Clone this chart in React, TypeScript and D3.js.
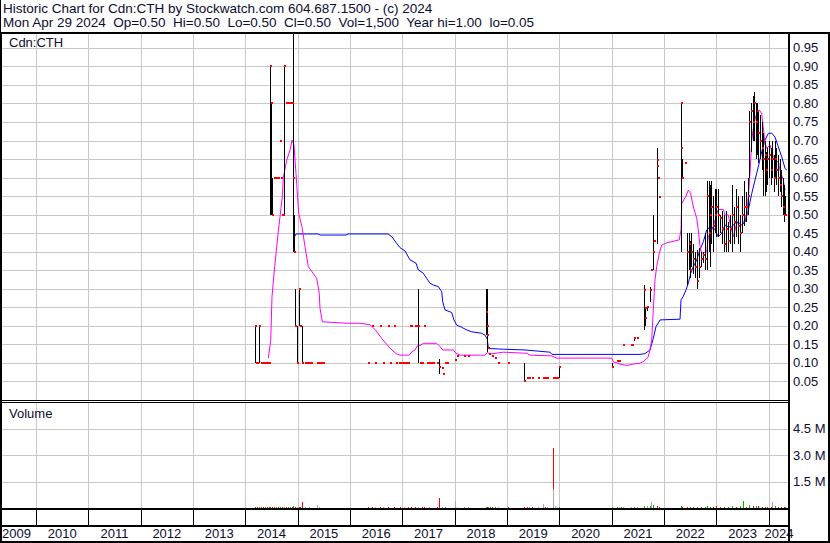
import React from 'react';
import * as d3 from 'd3';

const headerLine1 = 'Historic Chart for Cdn:CTH by Stockwatch.com 604.687.1500 - (c) 2024';
const headerLine2 = 'Mon Apr 29 2024  Op=0.50  Hi=0.50  Lo=0.50  Cl=0.50  Vol=1,500  Year hi=1.00  lo=0.05';
const symbolLabel = 'Cdn:CTH';
const volumeLabel = 'Volume';

const priceTicks = [0.05, 0.1, 0.15, 0.2, 0.25, 0.3, 0.35, 0.4, 0.45, 0.5, 0.55, 0.6, 0.65, 0.7, 0.75, 0.8, 0.85, 0.9, 0.95];
const volumeTicks = [1.5e6, 3.0e6, 4.5e6];
const volumeTickLabels = ['1.5 M', '3.0 M', '4.5 M'];
const years = [2009, 2010, 2011, 2012, 2013, 2014, 2015, 2016, 2017, 2018, 2019, 2020, 2021, 2022, 2023, 2024];

// [decimal year, high, low, close]
const priceBars: [number, number, number, number][] = [
  [2014.178, 0.20, 0.10, 0.20], [2014.194, 0.10, 0.10, 0.10], [2014.222, 0.10, 0.10, 0.10],
  [2014.266, 0.20, 0.10, 0.20], [2014.299, 0.10, 0.10, 0.10], [2014.337, 0.10, 0.10, 0.10],
  [2014.375, 0.10, 0.10, 0.10], [2014.413, 0.10, 0.10, 0.10], [2014.451, 0.10, 0.10, 0.10],
  [2014.480, 0.90, 0.50, 0.90], [2014.499, 0.80, 0.50, 0.80], [2014.518, 0.60, 0.50, 0.50],
  [2014.547, 0.60, 0.60, 0.60], [2014.585, 0.60, 0.60, 0.60], [2014.623, 0.60, 0.60, 0.60],
  [2014.662, 0.70, 0.70, 0.70], [2014.681, 0.60, 0.60, 0.60], [2014.700, 0.50, 0.50, 0.50],
  [2014.728, 0.50, 0.50, 0.50], [2014.744, 0.90, 0.50, 0.90], [2014.776, 0.80, 0.80, 0.80],
  [2014.814, 0.80, 0.80, 0.80], [2014.853, 0.80, 0.80, 0.80], [2014.891, 0.80, 0.80, 0.80],
  [2014.916, 1.00, 0.40, 0.60], [2014.933, 0.50, 0.40, 0.40], [2014.942, 0.30, 0.20, 0.20],
  [2014.981, 0.20, 0.10, 0.10], [2015.019, 0.30, 0.20, 0.30], [2015.053, 0.20, 0.20, 0.20],
  [2015.088, 0.20, 0.10, 0.10], [2015.139, 0.10, 0.10, 0.10], [2015.178, 0.10, 0.10, 0.10],
  [2015.216, 0.10, 0.10, 0.10], [2015.254, 0.10, 0.10, 0.10], [2015.368, 0.10, 0.10, 0.10],
  [2015.407, 0.10, 0.10, 0.10], [2015.445, 0.10, 0.10, 0.10], [2015.483, 0.10, 0.10, 0.10],
  [2016.343, 0.10, 0.10, 0.10], [2016.419, 0.20, 0.20, 0.20], [2016.477, 0.10, 0.10, 0.10],
  [2016.572, 0.20, 0.20, 0.20], [2016.629, 0.10, 0.10, 0.10], [2016.725, 0.20, 0.20, 0.20],
  [2016.763, 0.10, 0.10, 0.10], [2016.840, 0.20, 0.20, 0.20], [2016.878, 0.10, 0.10, 0.10],
  [2016.935, 0.10, 0.10, 0.10], [2016.954, 0.10, 0.10, 0.10], [2016.992, 0.10, 0.10, 0.10],
  [2017.031, 0.10, 0.10, 0.10], [2017.069, 0.10, 0.10, 0.10], [2017.107, 0.10, 0.10, 0.10],
  [2017.136, 0.20, 0.20, 0.20], [2017.164, 0.20, 0.20, 0.20], [2017.241, 0.20, 0.20, 0.20],
  [2017.279, 0.20, 0.20, 0.20], [2017.304, 0.30, 0.10, 0.20], [2017.336, 0.10, 0.10, 0.10],
  [2017.365, 0.10, 0.10, 0.10], [2017.422, 0.20, 0.20, 0.20], [2017.470, 0.10, 0.10, 0.10],
  [2017.508, 0.10, 0.10, 0.10], [2017.546, 0.10, 0.10, 0.10], [2017.585, 0.10, 0.10, 0.10],
  [2017.661, 0.10, 0.10, 0.10], [2017.705, 0.11, 0.07, 0.09], [2017.751, 0.085, 0.085, 0.085],
  [2017.776, 0.07, 0.07, 0.07], [2017.814, 0.10, 0.10, 0.10], [2017.843, 0.10, 0.10, 0.10],
  [2018.005, 0.108, 0.108, 0.108], [2018.043, 0.118, 0.118, 0.118], [2018.177, 0.118, 0.118, 0.118],
  [2018.253, 0.118, 0.118, 0.118], [2018.590, 0.30, 0.175, 0.238], [2018.607, 0.30, 0.13, 0.20],
  [2018.620, 0.175, 0.175, 0.175], [2018.636, 0.14, 0.14, 0.14], [2018.655, 0.125, 0.125, 0.125],
  [2018.706, 0.119, 0.119, 0.119], [2018.769, 0.112, 0.112, 0.112], [2018.821, 0.10, 0.10, 0.10],
  [2019.023, 0.10, 0.10, 0.10], [2019.329, 0.10, 0.05, 0.05], [2019.380, 0.06, 0.06, 0.06],
  [2019.419, 0.06, 0.06, 0.06], [2019.470, 0.06, 0.06, 0.06], [2019.596, 0.06, 0.06, 0.06],
  [2019.686, 0.06, 0.06, 0.06], [2019.724, 0.06, 0.06, 0.06], [2019.763, 0.06, 0.06, 0.06],
  [2019.868, 0.06, 0.06, 0.06], [2019.906, 0.06, 0.06, 0.06], [2019.954, 0.06, 0.06, 0.06],
  [2019.998, 0.09, 0.06, 0.09], [2020.999, 0.10, 0.09, 0.09], [2021.094, 0.105, 0.105, 0.105],
  [2021.138, 0.105, 0.105, 0.105], [2021.209, 0.148, 0.148, 0.148], [2021.362, 0.148, 0.148, 0.148],
  [2021.386, 0.148, 0.148, 0.148], [2021.430, 0.167, 0.16, 0.167], [2021.476, 0.166, 0.166, 0.166],
  [2021.622, 0.31, 0.19, 0.297], [2021.630, 0.25, 0.20, 0.247], [2021.640, 0.23, 0.22, 0.22],
  [2021.667, 0.25, 0.24, 0.25], [2021.730, 0.306, 0.265, 0.297], [2021.744, 0.35, 0.35, 0.35],
  [2021.793, 0.50, 0.35, 0.40], [2021.800, 0.43, 0.43, 0.43], [2021.858, 0.68, 0.42, 0.647],
  [2021.870, 0.63, 0.63, 0.63], [2021.880, 0.60, 0.60, 0.60], [2021.893, 0.548, 0.548, 0.548],
  [2022.323, 0.80, 0.40, 0.80], [2022.332, 0.73, 0.60, 0.68], [2022.342, 0.65, 0.60, 0.60],
  [2022.399, 0.64, 0.64, 0.64], [2022.437, 0.45, 0.31, 0.40], [2022.466, 0.45, 0.35, 0.42],
  [2022.495, 0.43, 0.33, 0.35], [2022.523, 0.45, 0.36, 0.40], [2022.552, 0.42, 0.34, 0.38],
  [2022.590, 0.40, 0.33, 0.36], [2022.628, 0.405, 0.30, 0.32], [2022.667, 0.41, 0.33, 0.36],
  [2022.705, 0.40, 0.36, 0.38], [2022.743, 0.40, 0.37, 0.39], [2022.781, 0.45, 0.35, 0.38],
  [2022.819, 0.59, 0.35, 0.55], [2022.848, 0.59, 0.40, 0.45], [2022.877, 0.58, 0.36, 0.50],
  [2022.905, 0.59, 0.42, 0.52], [2022.934, 0.55, 0.40, 0.47], [2022.963, 0.57, 0.45, 0.50],
  [2022.991, 0.57, 0.44, 0.52], [2023.030, 0.57, 0.44, 0.50], [2023.068, 0.50, 0.45, 0.49],
  [2023.106, 0.51, 0.42, 0.46], [2023.144, 0.50, 0.40, 0.42], [2023.182, 0.51, 0.40, 0.46],
  [2023.221, 0.48, 0.40, 0.43], [2023.259, 0.50, 0.42, 0.46], [2023.297, 0.58, 0.40, 0.50],
  [2023.335, 0.52, 0.42, 0.48], [2023.374, 0.57, 0.44, 0.52], [2023.412, 0.55, 0.42, 0.47],
  [2023.450, 0.50, 0.40, 0.45], [2023.488, 0.55, 0.45, 0.50], [2023.526, 0.59, 0.47, 0.52],
  [2023.565, 0.56, 0.48, 0.52], [2023.603, 0.60, 0.50, 0.55], [2023.631, 0.78, 0.60, 0.75],
  [2023.660, 0.80, 0.67, 0.78], [2023.689, 0.82, 0.70, 0.75], [2023.717, 0.83, 0.70, 0.80],
  [2023.746, 0.80, 0.65, 0.75], [2023.775, 0.80, 0.66, 0.78], [2023.803, 0.78, 0.64, 0.72],
  [2023.832, 0.77, 0.65, 0.70], [2023.861, 0.75, 0.62, 0.68], [2023.889, 0.72, 0.55, 0.65],
  [2023.918, 0.70, 0.55, 0.66], [2023.947, 0.67, 0.56, 0.62], [2023.975, 0.68, 0.58, 0.65],
  [2024.004, 0.70, 0.60, 0.66], [2024.033, 0.68, 0.58, 0.62], [2024.061, 0.70, 0.60, 0.65],
  [2024.090, 0.66, 0.56, 0.60], [2024.119, 0.70, 0.60, 0.65], [2024.147, 0.68, 0.58, 0.62],
  [2024.176, 0.66, 0.55, 0.60], [2024.205, 0.65, 0.56, 0.58], [2024.233, 0.62, 0.52, 0.55],
  [2024.262, 0.60, 0.50, 0.52], [2024.291, 0.58, 0.48, 0.50], [2024.319, 0.55, 0.50, 0.50],
];

// short moving average (magenta)
const fastMaDates = [
  2014.438, 2014.484, 2014.509, 2014.560, 2014.618, 2014.662, 2014.706, 2014.725, 2014.790, 2014.853,
  2014.891, 2014.929, 2014.967, 2015.019, 2015.082, 2015.139, 2015.202, 2015.248, 2015.363, 2015.412,
  2015.426, 2015.470, 2015.936, 2016.190, 2016.381, 2016.477, 2016.610, 2016.763, 2016.878, 2016.954,
  2017.132, 2017.178, 2017.241, 2017.285, 2017.336, 2017.399, 2017.655, 2017.718, 2017.770, 2017.973,
  2018.024, 2018.100, 2018.578, 2018.622, 2018.674, 2018.928, 2019.375, 2019.438, 2019.852, 2019.948,
  2020.999, 2021.029, 2021.157, 2021.285, 2021.411, 2021.539, 2021.616, 2021.692, 2021.730, 2021.763,
  2021.793, 2021.826, 2021.858, 2021.908, 2021.954, 2022.050, 2022.290, 2022.323, 2022.336, 2022.418,
  2022.462, 2022.508, 2022.558, 2022.623, 2022.653, 2022.686, 2022.718, 2022.814, 2022.844, 2022.877,
  2022.940, 2023.005, 2023.035, 2023.131, 2023.163, 2023.226, 2023.259, 2023.322, 2023.387, 2023.450,
  2023.513, 2023.578, 2023.609, 2023.641, 2023.674, 2023.717, 2023.769, 2023.819, 2023.864, 2023.908,
  2023.927, 2023.960, 2024.023, 2024.086, 2024.119, 2024.151, 2024.182, 2024.214, 2024.277, 2024.310,
];
const fastMaValues = [
  0.113, 0.16, 0.279, 0.36, 0.44, 0.495, 0.548, 0.60, 0.647, 0.674,
  0.701, 0.688, 0.611, 0.503, 0.467, 0.414, 0.36, 0.351, 0.328, 0.288,
  0.247, 0.211, 0.207, 0.207, 0.203, 0.19, 0.165, 0.14, 0.125, 0.121,
  0.121, 0.13, 0.135, 0.146, 0.147, 0.153, 0.153, 0.144, 0.135, 0.135,
  0.126, 0.121, 0.121, 0.128, 0.124, 0.129, 0.126, 0.121, 0.119, 0.113,
  0.113, 0.103, 0.097, 0.093, 0.097, 0.099, 0.105, 0.115, 0.135, 0.162,
  0.243, 0.324, 0.36, 0.396, 0.418, 0.424, 0.432, 0.459, 0.53, 0.55,
  0.566, 0.557, 0.521, 0.49, 0.459, 0.414, 0.396, 0.40, 0.44, 0.45,
  0.467, 0.503, 0.514, 0.514, 0.499, 0.499, 0.477, 0.44, 0.477, 0.47,
  0.477, 0.503, 0.548, 0.611, 0.701, 0.746, 0.773, 0.782, 0.773, 0.719,
  0.692, 0.679, 0.688, 0.656, 0.653, 0.643, 0.643, 0.62, 0.593, 0.566,
];

// long moving average (blue)
const slowMaDates = [
  2014.948, 2014.967, 2015.388, 2015.426, 2015.923, 2015.961, 2016.725, 2016.801, 2016.878, 2016.954,
  2017.050, 2017.145, 2017.260, 2017.304, 2017.399, 2017.464, 2017.527, 2017.590, 2017.686, 2017.751,
  2017.770, 2017.814, 2017.942, 2017.986, 2018.037, 2018.133, 2018.228, 2018.324, 2018.515, 2018.578,
  2018.622, 2018.641, 2018.928, 2019.342, 2019.820, 2019.858, 2021.539, 2021.635, 2021.730, 2021.793,
  2021.845, 2021.889, 2021.921, 2022.304, 2022.323, 2022.367, 2022.418, 2022.462, 2022.508, 2022.558,
  2022.623, 2022.686, 2022.749, 2022.814, 2022.877, 2022.940, 2022.972, 2023.035, 2023.100, 2023.163,
  2023.226, 2023.291, 2023.355, 2023.418, 2023.482, 2023.545, 2023.609, 2023.674, 2023.736, 2023.800,
  2023.864, 2023.927, 2023.990, 2024.056, 2024.119, 2024.182, 2024.247, 2024.310, 2024.342,
];
const slowMaValues = [
  0.442, 0.448, 0.448, 0.445, 0.445, 0.448, 0.448, 0.44, 0.425, 0.411,
  0.402, 0.378, 0.369, 0.351, 0.342, 0.328, 0.315, 0.31, 0.306, 0.292,
  0.265, 0.243, 0.236, 0.216, 0.202, 0.196, 0.189, 0.184, 0.18, 0.175,
  0.164, 0.139, 0.137, 0.135, 0.129, 0.123, 0.123, 0.125, 0.135, 0.166,
  0.198, 0.208, 0.216, 0.218, 0.27, 0.28, 0.297, 0.315, 0.342, 0.36,
  0.378, 0.405, 0.427, 0.459, 0.467, 0.465, 0.459, 0.44, 0.45, 0.472,
  0.467, 0.467, 0.477, 0.48, 0.472, 0.48, 0.512, 0.557, 0.593, 0.629,
  0.67, 0.701, 0.719, 0.72, 0.709, 0.683, 0.656, 0.625, 0.62,
];

// [decimal year, shares, colour code]
const volumeBars: [number, number, string][] = [
  [2014.178, 60e3, 'r'], [2014.222, 40e3, 'r'], [2014.266, 50e3, 'g'], [2014.299, 40e3, 'r'],
  [2014.337, 50e3, 'r'], [2014.375, 30e3, 'g'], [2014.413, 40e3, 'r'], [2014.451, 60e3, 'r'],
  [2014.480, 80e3, 'g'], [2014.518, 60e3, 'r'], [2014.547, 50e3, 'r'], [2014.585, 40e3, 'g'],
  [2014.623, 50e3, 'r'], [2014.662, 60e3, 'g'], [2014.700, 40e3, 'r'], [2014.744, 80e3, 'g'],
  [2014.776, 50e3, 'r'], [2014.814, 40e3, 'g'], [2014.853, 60e3, 'r'], [2014.891, 50e3, 'r'],
  [2014.916, 120e3, 'g'], [2014.942, 50e3, 'r'], [2014.981, 60e3, 'k'], [2015.019, 40e3, 'r'],
  [2015.053, 50e3, 'r'], [2015.088, 330e3, 'r'], [2015.139, 60e3, 'k'], [2015.216, 40e3, 'k'],
  [2015.368, 150e3, 'k'], [2015.407, 40e3, 'k'],
  [2016.343, 30e3, 'r'], [2016.419, 40e3, 'r'], [2016.477, 30e3, 'k'], [2016.572, 50e3, 'r'],
  [2016.629, 30e3, 'k'], [2016.725, 40e3, 'r'], [2016.840, 30e3, 'r'], [2016.954, 40e3, 'r'],
  [2017.031, 30e3, 'k'], [2017.107, 50e3, 'r'], [2017.164, 40e3, 'r'], [2017.241, 60e3, 'r'],
  [2017.304, 80e3, 'k'], [2017.365, 40e3, 'r'], [2017.422, 50e3, 'r'], [2017.508, 40e3, 'k'],
  [2017.661, 60e3, 'r'], [2017.705, 550e3, 'r'], [2017.751, 80e3, 'k'], [2017.814, 40e3, 'g'],
  [2018.005, 420e3, 'k'], [2018.043, 60e3, 'k'], [2018.177, 40e3, 'k'], [2018.253, 30e3, 'k'],
  [2018.588, 60e3, 'g'], [2018.607, 80e3, 'r'], [2018.636, 50e3, 'g'], [2018.674, 40e3, 'r'],
  [2018.706, 50e3, 'r'], [2018.769, 40e3, 'g'], [2018.821, 60e3, 'k'], [2019.023, 40e3, 'r'],
  [2019.329, 80e3, 'r'], [2019.380, 60e3, 'r'], [2019.419, 50e3, 'k'], [2019.470, 40e3, 'r'],
  [2019.596, 60e3, 'k'], [2019.686, 200e3, 'k'], [2019.724, 50e3, 'r'], [2019.763, 80e3, 'k'],
  [2019.868, 3.4e6, 'r'], [2019.868, 1.1e6, 'k'], [2019.906, 100e3, 'k'], [2019.954, 60e3, 'k'],
  [2019.998, 80e3, 'g'],
  [2020.999, 60e3, 'g'], [2021.094, 50e3, 'g'], [2021.138, 40e3, 'k'], [2021.176, 60e3, 'g'],
  [2021.209, 50e3, 'k'], [2021.362, 80e3, 'k'], [2021.430, 60e3, 'g'], [2021.476, 40e3, 'k'],
  [2021.622, 100e3, 'g'], [2021.667, 90e3, 'k'], [2021.730, 120e3, 'g'], [2021.747, 350e3, 'k'],
  [2021.793, 150e3, 'g'], [2021.858, 100e3, 'r'], [2021.893, 60e3, 'g'],
  [2022.323, 90e3, 'g'], [2022.342, 60e3, 'r'], [2022.437, 50e3, 'r'], [2022.495, 80e3, 'g'],
  [2022.552, 60e3, 'r'], [2022.628, 70e3, 'g'], [2022.705, 50e3, 'r'], [2022.781, 60e3, 'g'],
  [2022.819, 120e3, 'g'], [2022.877, 80e3, 'r'], [2022.934, 60e3, 'g'], [2022.991, 90e3, 'r'],
  [2023.068, 70e3, 'g'], [2023.144, 60e3, 'r'], [2023.221, 80e3, 'g'], [2023.297, 100e3, 'g'],
  [2023.374, 70e3, 'r'], [2023.450, 90e3, 'g'], [2023.500, 400e3, 'g'], [2023.565, 80e3, 'r'],
  [2023.631, 150e3, 'g'], [2023.689, 120e3, 'r'], [2023.746, 100e3, 'g'], [2023.803, 90e3, 'r'],
  [2023.861, 80e3, 'r'], [2023.918, 70e3, 'g'], [2023.975, 60e3, 'r'], [2024.033, 80e3, 'r'],
  [2024.070, 350e3, 'k'], [2024.119, 90e3, 'g'], [2024.176, 70e3, 'r'], [2024.233, 60e3, 'r'],
  [2024.291, 80e3, 'r'], [2024.319, 40e3, 'g'],
];

const volumeColours: Record<string, string> = { r: '#ff0000', g: '#00b400', k: '#a8a8a8' };

const W = 830;
const H = 543;
const PLOT_LEFT = 1;
const PLOT_RIGHT = 789;
const PRICE_TOP = 33;
const PRICE_BOTTOM = 400;
const VOL_TOP = 402;
const VOL_BOTTOM = 508;
const AXIS_MID = 526;
const FRAME_BOTTOM = 541;
const TEXT_COLOUR = '#0c0c30';
const GRID = '#c8c8c8';

export default function App() {
  const x = d3.scaleLinear().domain([2010, 2024]).range([36, 768.8]);
  const yP = d3.scaleLinear().domain([0, 0.99]).range([PRICE_BOTTOM, PRICE_TOP]);
  const yV = d3.scaleLinear().domain([0, 6e6]).range([VOL_BOTTOM, VOL_TOP]);

  const fastLine = d3
    .line<number>()
    .x((_, i) => x(fastMaDates[i]))
    .y((d) => yP(d));
  const slowLine = d3
    .line<number>()
    .x((_, i) => x(slowMaDates[i]))
    .y((d) => yP(d));

  const yearLines = years.filter((yr) => x(yr) > PLOT_LEFT && x(yr) < PLOT_RIGHT);

  return (
    <svg
      width={W}
      height={H}
      viewBox={`0 0 ${W} ${H}`}
      style={{ position: 'absolute', left: 0, top: 0, background: '#fff' }}
      fontFamily="'Liberation Sans', Arial, sans-serif"
      fontSize={13}
    >
      <defs>
        <clipPath id="priceClip">
          <rect x={PLOT_LEFT} y={PRICE_TOP} width={PLOT_RIGHT - PLOT_LEFT} height={PRICE_BOTTOM - PRICE_TOP} />
        </clipPath>
        <clipPath id="volClip">
          <rect x={PLOT_LEFT} y={VOL_TOP} width={PLOT_RIGHT - PLOT_LEFT} height={VOL_BOTTOM - VOL_TOP} />
        </clipPath>
      </defs>
      <rect x={0} y={0} width={W} height={H} fill="#fff" />

      {/* header */}
      <text x={3} y={13} fill={TEXT_COLOUR} fontSize={13.5} xmlSpace="preserve" style={{ whiteSpace: 'pre' }}>{headerLine1}</text>
      <text x={3} y={27} fill={TEXT_COLOUR} fontSize={13.5} xmlSpace="preserve" style={{ whiteSpace: 'pre' }}>{headerLine2}</text>

      {/* grids */}
      <g shapeRendering="crispEdges" stroke={GRID} strokeWidth={1}>
        {priceTicks.map((p) => (
          <line key={'pg' + p} x1={PLOT_LEFT} x2={PLOT_RIGHT} y1={Math.round(yP(p)) + 0.5} y2={Math.round(yP(p)) + 0.5} />
        ))}
        {volumeTicks.map((v) => (
          <line key={'vg' + v} x1={PLOT_LEFT} x2={PLOT_RIGHT} y1={Math.round(yV(v)) + 0.5} y2={Math.round(yV(v)) + 0.5} />
        ))}
        {yearLines.map((yr) => (
          <g key={'yg' + yr}>
            <line x1={Math.round(x(yr)) + 0.5} x2={Math.round(x(yr)) + 0.5} y1={PRICE_TOP} y2={PRICE_BOTTOM} />
            <line x1={Math.round(x(yr)) + 0.5} x2={Math.round(x(yr)) + 0.5} y1={VOL_TOP} y2={VOL_BOTTOM} />
          </g>
        ))}
      </g>

      {/* labels inside panels */}
      <text x={9} y={47} fill={TEXT_COLOUR}>{symbolLabel}</text>
      <text x={9} y={418} fill={TEXT_COLOUR}>{volumeLabel}</text>

      {/* moving averages */}
      <g clipPath="url(#priceClip)" fill="none" strokeWidth={1}>
        <path d={slowLine(slowMaValues) || ''} stroke="#0000ff" />
        <path d={fastLine(fastMaValues) || ''} stroke="#ff00ff" />
      </g>

      {/* price bars */}
      <g clipPath="url(#priceClip)" shapeRendering="crispEdges">
        {priceBars.map(([t, hi, lo], i) =>
          hi > lo ? (
            <rect key={'b' + i} x={Math.round(x(t))} y={yP(hi)} width={1} height={yP(lo) - yP(hi)} fill="#000" />
          ) : null
        )}
        {priceBars.map(([t, , , cl], i) => (
          <rect key={'c' + i} x={Math.round(x(t))} y={Math.round(yP(cl)) - 1} width={2} height={2} fill="#ff0000" />
        ))}
      </g>

      {/* volume bars */}
      <g clipPath="url(#volClip)" shapeRendering="crispEdges">
        {volumeBars.map(([t, v, c], i) => (
          <rect key={'v' + i} x={Math.round(x(t))} y={yV(v)} width={1} height={VOL_BOTTOM - yV(v)} fill={volumeColours[c]} />
        ))}
      </g>

      {/* axis labels */}
      {priceTicks.map((p) => (
        <text key={'pl' + p} x={793} y={yP(p) + 4.5} fill={TEXT_COLOUR}>{p.toFixed(2)}</text>
      ))}
      {volumeTicks.map((v, i) => (
        <text key={'vl' + v} x={793} y={yV(v) + 4.5} fill={TEXT_COLOUR}>{volumeTickLabels[i]}</text>
      ))}

      {/* frame and separators */}
      <g shapeRendering="crispEdges" stroke="#000" fill="none">
        <line x1={0.5} x2={0.5} y1={0} y2={PRICE_TOP} strokeWidth={1} />
        <rect x={0.5} y={PRICE_TOP - 0.5} width={W - 2} height={FRAME_BOTTOM - PRICE_TOP + 1} strokeWidth={2} />
        <line x1={PLOT_RIGHT} x2={PLOT_RIGHT} y1={PRICE_TOP} y2={FRAME_BOTTOM} strokeWidth={2} />
        <line x1={0} x2={PLOT_RIGHT} y1={PRICE_BOTTOM + 0.5} y2={PRICE_BOTTOM + 0.5} strokeWidth={1} />
        <line x1={0} x2={PLOT_RIGHT} y1={VOL_TOP + 0.5} y2={VOL_TOP + 0.5} strokeWidth={1} />
        <line x1={0} x2={PLOT_RIGHT} y1={VOL_BOTTOM + 0.5} y2={VOL_BOTTOM + 0.5} strokeWidth={2} />
        <line x1={0} x2={PLOT_RIGHT} y1={AXIS_MID} y2={AXIS_MID} strokeWidth={2} />
        {yearLines.map((yr) => (
          <line key={'ya' + yr} x1={Math.round(x(yr)) + 0.5} x2={Math.round(x(yr)) + 0.5} y1={VOL_BOTTOM} y2={AXIS_MID} strokeWidth={1} />
        ))}
      </g>

      {/* year labels */}
      {years.map((yr) => {
        const start = Math.max(x(yr), PLOT_LEFT);
        const end = Math.min(x(yr + 1), PLOT_RIGHT);
        const clipped = x(yr) < PLOT_LEFT;
        return (
          <text
            key={'yl' + yr}
            x={clipped ? 2 : (start + end) / 2}
            y={538}
            textAnchor={clipped ? 'start' : 'middle'}
            fill={TEXT_COLOUR}
          >
            {String(yr)}
          </text>
        );
      })}
    </svg>
  );
}
